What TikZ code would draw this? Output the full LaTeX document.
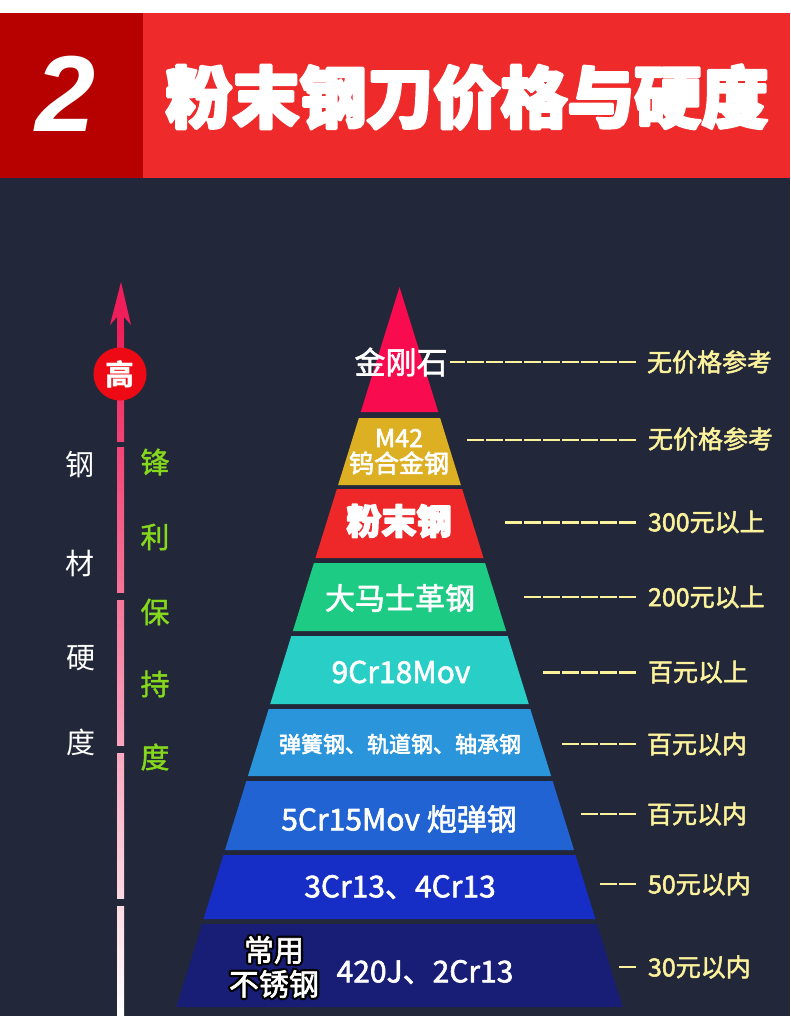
\documentclass[tikz,border=0pt]{standalone}
\usepackage{fontspec}
\newfontfamily\cjk{Noto Sans CJK SC}
\newfontfamily\lsans{Liberation Sans}
\definecolor{bg}{HTML}{222839}
\definecolor{hdark}{HTML}{B70000}
\definecolor{hred}{HTML}{EE2A2A}
\definecolor{axtop}{HTML}{F01E5A}
\definecolor{circred}{HTML}{EE0A14}
\definecolor{greentxt}{HTML}{86D81C}
\definecolor{priceyel}{HTML}{FCF29C}
\definecolor{cA}{HTML}{F90B50}
\definecolor{cB}{HTML}{DDB024}
\definecolor{cC}{HTML}{EE2828}
\definecolor{cD}{HTML}{1ECB84}
\definecolor{cE}{HTML}{29CFC7}
\definecolor{cF}{HTML}{2A95DA}
\definecolor{cG}{HTML}{2163D2}
\definecolor{cH}{HTML}{162EC6}
\definecolor{cI}{HTML}{181D76}
\newcommand\pyrlayer[3]{\fill[#3] ({399.5-0.31*(#1-287)},#1) -- ({399.5+0.31*(#1-287)},#1) -- ({399.5+0.31*(#2-287)},#2) -- ({399.5-0.31*(#2-287)},#2) -- cycle;}
% stroked (emboldened) text: #1 stroke rgb, #2 width, #3 text
\newcommand\strk[3]{\special{pdf:literal direct #1 RG #2 w 1 j 2 Tr}#3\special{pdf:literal direct 0 Tr}}
\newcommand\wt[1]{\strk{1 1 1}{0.6}{#1}}
\newcommand\yt[1]{\strk{0.988 0.949 0.612}{0.5}{#1}}
\newcommand\gt[1]{\strk{0.525 0.847 0.11}{0.4}{#1}}
\newcommand\outl[1]{\makebox[0pt][l]{\special{pdf:literal direct 0 0 0 RG 5 w 1 j 1 Tr}#1\special{pdf:literal direct 0 Tr}}\wt{#1}}
\begin{document}
\begin{tikzpicture}[x=1pt,y=-1pt,
  every node/.style={inner sep=0pt, outer sep=0pt},
  lay/.style={text=white, font=\cjk\fontsize{30}{34}\selectfont},
  price/.style={anchor=west, text=priceyel, font=\cjk\fontsize{25}{28}\selectfont},
  dashline/.style={draw=priceyel, line width=2.2pt, dash pattern=on 17pt off 2pt},
  axtext/.style={text=white, font=\cjk\fontsize{29}{32}\selectfont},
  grtext/.style={text=greentxt, font=\cjk\fontsize{29}{32}\selectfont}]
\useasboundingbox (0,0) rectangle (790,1016);
\fill[white] (0,0) rectangle (790,13);
\fill[bg] (0,178) rectangle (790,1016);
\fill[hdark] (0,13) rectangle (143,178);
\fill[hred] (143,13) rectangle (790,178);
\node[text=white, font=\lsans\bfseries\itshape\fontsize{108}{110}\selectfont] (num) at (66,94) {2};
\node[text=white, font=\cjk\bfseries\fontsize{67}{70}\selectfont] (title) at (467,97) {\strk{1 1 1}{3}{粉末钢刀价格与硬度}};
% axis
\fill[axtop] (117,300) rectangle (124,330);
\shade[top color=axtop, bottom color=white] (117,329) rectangle (124,1016);
\foreach \a/\b in {442/447,593/600,746/753,899/906}
  \fill[bg] (114,\a) rectangle (127,\b);
\fill[axtop] (121,282) -- (131,325) -- (120.5,313) -- (110,325) -- cycle;
\node[circle, fill=circred, minimum size=53pt, text=white, font=\cjk\bfseries\fontsize{29}{32}\selectfont] (high) at (120,374) {高};
\node[axtext] (a1) at (80,465) {钢};
\node[axtext] (a2) at (80,563) {材};
\node[axtext] (a3) at (81,658) {硬};
\node[axtext] (a4) at (81,742) {度};
\node[grtext] (g1) at (155,462) {\gt{锋}};
\node[grtext] (g2) at (155,537) {\gt{利}};
\node[grtext] (g3) at (155,612) {\gt{保}};
\node[grtext] (g4) at (155,684) {\gt{持}};
\node[grtext] (g5) at (155,757) {\gt{度}};
% pyramid
\pyrlayer{287}{412}{cA}
\pyrlayer{418}{485}{cB}
\pyrlayer{489}{558}{cC}
\pyrlayer{563}{631}{cD}
\pyrlayer{636}{704}{cE}
\pyrlayer{709}{776}{cF}
\pyrlayer{781}{850}{cG}
\pyrlayer{855}{919}{cH}
\pyrlayer{924}{1007}{cI}
\node[lay, font=\cjk\fontsize{31}{34}\selectfont] (l1) at (401,362) {\wt{金刚石}};
\node[lay, font=\cjk\fontsize{25}{28}\selectfont] (l2a) at (399,438) {\wt{M42}};
\node[lay, font=\cjk\fontsize{25}{28}\selectfont] (l2b) at (399,463) {\wt{钨合金钢}};
\node[lay, font=\cjk\bfseries\fontsize{35}{38}\selectfont] (l3) at (399,521) {\strk{1 1 1}{1.6}{粉末钢}};
\node[lay] (l4) at (400,598) {\wt{大马士革钢}};
\node[lay] (l5) at (401,672) {\wt{9Cr18Mov}};
\node[lay, font=\cjk\fontsize{22}{26}\selectfont] (l6) at (400,744) {\wt{弹簧钢、轨道钢、轴承钢}};
\node[lay] (l7) at (399,819) {\wt{5Cr15Mov 炮弹钢}};
\node[lay] (l8) at (400,887) {\wt{3Cr13、4Cr13}};
\node[lay] (l9a) at (274,950) {\outl{常用}};
\node[lay] (l9b) at (274,984) {\outl{不锈钢}};
\node[lay] (l9c) at (425,972) {\wt{420J、2Cr13}};
% prices
\node[price] (p1) at (647,362) {\yt{无价格参考}};
\node[price] (p2) at (648,439) {\yt{无价格参考}};
\node[price] (p3) at (648,522) {\yt{300元以上}};
\node[price] (p4) at (648,597) {\yt{200元以上}};
\node[price] (p5) at (648,672) {\yt{百元以上}};
\node[price] (p6) at (647,744) {\yt{百元以内}};
\node[price] (p7) at (647,814) {\yt{百元以内}};
\node[price] (p8) at (648,884) {\yt{50元以内}};
\node[price] (p9) at (648,967) {\yt{30元以内}};
\coordinate (d1) at (450,362);
\coordinate (d2) at (467,440);
\coordinate (d3) at (505,522.5);
\coordinate (d4) at (524,597);
\coordinate (d5) at (543,672.5);
\coordinate (d6) at (562,744);
\coordinate (d7) at (581,814);
\coordinate (d8) at (600,884);
\coordinate (d9) at (619,967);
\foreach \i in {1,...,9}
  \draw[dashline] (636,0 |- d\i) -- (d\i);
\end{tikzpicture}
\end{document}
